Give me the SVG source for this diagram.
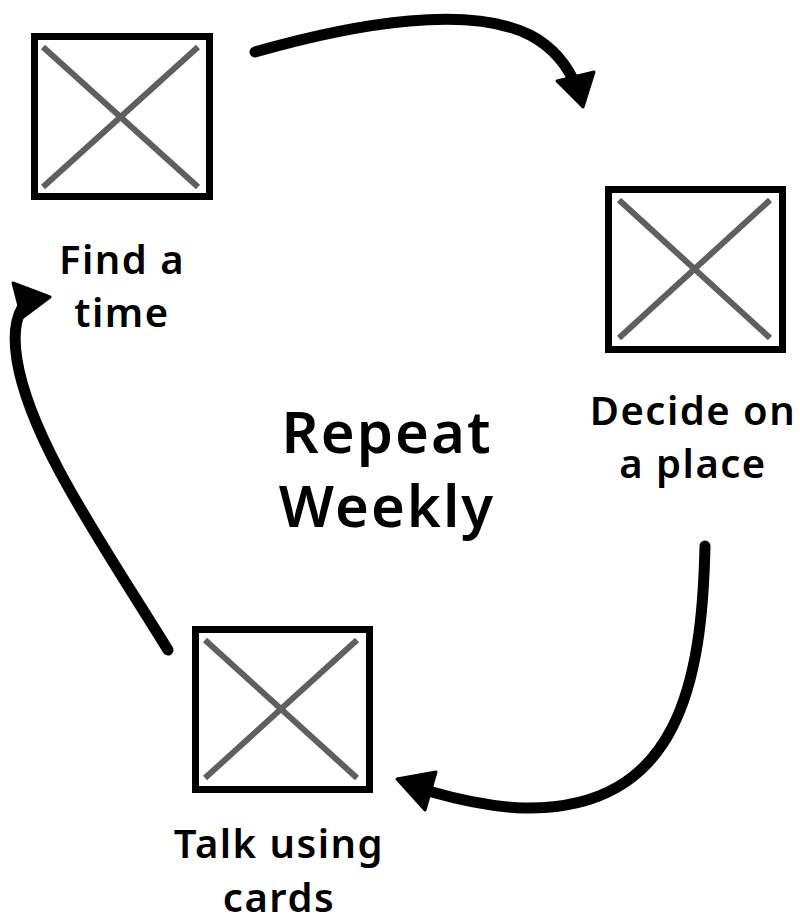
<svg xmlns="http://www.w3.org/2000/svg" width="800" height="924" viewBox="0 0 800 924">
<style>
.box{fill:#fff;stroke:#000;stroke-width:7}
.x{stroke:#5f5f5f;stroke-width:6}
.lbl{font-family:"Noto Sans","Liberation Sans",sans-serif;font-weight:600;font-size:40px;letter-spacing:1.5px;fill:#000;text-anchor:middle}
.big{font-size:58px;letter-spacing:2px}
.arr{fill:none;stroke:#000;stroke-width:11;stroke-linecap:round}
.head{fill:#000;stroke:#000;stroke-width:3;stroke-linejoin:round}
</style>
<rect width="800" height="924" fill="#fff"/>
<g id="connectors">
<path class="arr" d="M255,52 C360,22 470,5 530,35 C555,48 570,70 578,90"/>
<polygon class="head" points="557,81 594,72 583,107"/>
<path class="arr" d="M705,546 C702,680 680,810 525,808 C490,807 460,800 432,792"/>
<polygon class="head" points="397,779 436,772 425,810"/>
<path class="arr" d="M168,650 C100,540 30,440 17,360 C13,335 15,320 22,308"/>
<polygon class="head" points="13,283 50,297 22,318"/>
</g>
<g id="node-find">
<rect class="box" x="34.5" y="36.5" width="175" height="160"/>
<line class="x" x1="43" y1="47" x2="198" y2="187"/>
<line class="x" x1="198" y1="47" x2="43" y2="187"/>
<text class="lbl" x="122" y="274">Find a</text>
<text class="lbl" x="122" y="327">time</text>
</g>
<g id="node-decide">
<rect class="box" x="608.5" y="189.5" width="174" height="160"/>
<line class="x" x1="619" y1="200" x2="770" y2="338"/>
<line class="x" x1="770" y1="200" x2="619" y2="338"/>
<text class="lbl" x="693" y="425">Decide on</text>
<text class="lbl" x="693" y="478">a place</text>
</g>
<g id="node-talk">
<rect class="box" x="195.5" y="629.5" width="174" height="160"/>
<line class="x" x1="205" y1="640" x2="357" y2="778"/>
<line class="x" x1="357" y1="640" x2="205" y2="778"/>
<text class="lbl" x="279" y="858">Talk using</text>
<text class="lbl" x="279" y="912">cards</text>
</g>
<g id="center">
<text class="lbl big" x="387" y="453">Repeat</text>
<text class="lbl big" x="387" y="527">Weekly</text>
</g>
</svg>
